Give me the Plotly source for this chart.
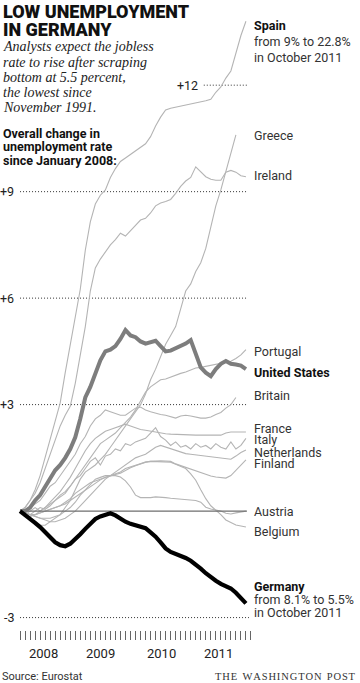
import plotly.graph_objects as go

# ---------------- data (change in unemployment rate since Jan 2008, points) ----------------
months = list(range(46))  # 0 = Jan 2008 ... 45 = Oct 2011

spain = [0, 0.1, 0.3, 0.6, 1.0, 1.5, 2.0, 2.5, 3.05, 3.9, 4.7, 5.5, 6.25, 7.35, 8.15, 8.65, 8.9, 9.05,
         9.4, 9.65, 9.85, 9.95, 10.05, 10.15, 10.25, 10.35, 10.55, 10.85, 11.1, 11.3, 11.35, 11.38,
         11.4, 11.42, 11.45, 11.5, 11.52, 11.56, 11.6, 11.8, 11.95, 12.2, 12.4, 12.9, 13.4, 13.8]
greece = [0, -0.1, -0.2, -0.3, -0.4, -0.4, -0.3, -0.2, -0.1, 0.1, 0.3, 0.6, 0.9, 1.1, 1.2, 1.3,
          1.45, 1.6, 1.8, 2.0, 2.2, 2.4, 2.6, 2.8, 3.0, 3.3, 3.7, 4.0, 4.35, 4.7, 4.95, 5.2, 5.7,
          6.2, 6.4, 6.75, 7.0, 7.4, 8.0, 8.6, 9.05, 9.55, 10.05, 10.6]
ireland = [0, 0.1, 0.3, 0.5, 0.8, 1.2, 1.6, 2.0, 2.4, 2.7, 2.95, 3.6, 4.4, 5.2, 6.2, 6.85, 7.1, 7.3,
           7.5, 7.65, 7.83, 7.75, 7.9, 8.05, 8.2, 8.25, 8.4, 8.6, 8.68, 8.72, 8.78, 8.95, 9.15, 9.3,
           9.4, 9.7, 9.55, 9.42, 9.35, 9.32, 9.32, 9.55, 9.6, 9.55, 9.45, 9.42]
portugal = [0, -0.1, 0, 0.1, 0.0, 0.1, 0.2, 0.3, 0.4, 0.5, 0.7, 0.9, 1.1, 1.3, 1.5, 1.7, 1.9, 2.0,
            2.1, 2.2, 2.35, 2.5, 2.65, 2.85, 3.1, 3.35, 3.5, 3.6, 3.7, 3.72, 3.78, 3.82, 3.88, 3.92,
            3.98, 4.03, 4.05, 4.08, 4.1, 4.13, 4.17, 4.2, 4.22, 4.3, 4.4, 4.55]
britain = [0, 0.0, 0.1, 0.2, 0.3, 0.5, 0.7, 0.8, 1.0, 1.2, 1.4, 1.6, 1.9, 2.1, 2.4, 2.6, 2.7, 2.85,
           2.8, 2.75, 2.7, 2.7, 2.8, 2.9, 2.93, 2.85, 2.8, 2.75, 2.72, 2.7, 2.65, 2.62, 2.68, 2.7,
           2.68, 2.65, 2.62, 2.62, 2.65, 2.72, 2.78, 2.9, 3.0, 3.2]
france = [0, -0.1, -0.15, -0.1, 0.0, 0.1, 0.25, 0.4, 0.55, 0.75, 0.95, 1.2, 1.45, 1.7, 1.9, 2.05,
          2.15, 2.25, 2.3, 2.35, 2.4, 2.45, 2.4, 2.35, 2.3, 2.28, 2.25, 2.22, 2.2, 2.18, 2.17, 2.16,
          2.15, 2.14, 2.14, 2.14, 2.14, 2.14, 2.14, 2.14, 2.14, 2.2, 2.23, 2.23, 2.23, 2.23]
italy = [0, -0.05, -0.1, 0.0, 0.1, 0.05, 0.15, 0.3, 0.45, 0.55, 0.7, 0.9, 1.0, 1.2, 1.4, 1.5, 1.3,
         1.55, 1.6, 1.75, 1.7, 1.9, 1.85, 1.95, 2.0, 2.05, 2.2, 2.35, 2.1, 2.0, 1.85, 1.95, 1.8,
         1.85, 1.75, 1.9, 1.8, 1.85, 1.75, 1.9, 1.8, 1.75, 1.95, 1.75, 1.85, 2.05]
netherlands = [0, -0.05, -0.1, -0.15, -0.2, -0.25, -0.3, -0.3, -0.25, -0.2, -0.1, 0.0, 0.15, 0.3,
               0.45, 0.6, 0.75, 0.9, 1.0, 1.1, 1.2, 1.3, 1.4, 1.5, 1.55, 1.6, 1.7, 1.8, 1.85, 1.8,
               1.75, 1.7, 1.65, 1.62, 1.6, 1.58, 1.56, 1.55, 1.53, 1.52, 1.5, 1.48, 1.46, 1.55,
               1.65, 1.72]
finland = [0, -0.05, -0.1, -0.1, -0.05, 0.0, 0.05, 0.1, 0.15, 0.2, 0.3, 0.4, 0.5, 0.6, 0.7, 0.8,
           0.88, 0.95, 1.0, 1.03, 1.07, 1.15, 1.22, 1.28, 1.33, 1.38, 1.4, 1.42, 1.42, 1.41, 1.4,
           1.33, 1.28, 1.24, 1.18, 1.12, 1.08, 1.03, 0.99, 0.96, 0.94, 0.93, 1.0, 1.15, 1.3, 1.44]
austria = [0, -0.05, -0.1, -0.15, -0.2, -0.2, -0.2, -0.15, -0.1, 0.0, 0.1, 0.25, 0.45, 0.6, 0.75,
           0.9, 0.95, 1.0, 1.0, 1.0, 0.96, 0.85, 0.68, 0.45, 0.38, 0.37, 0.38, 0.4, 0.4, 0.38,
           0.36, 0.35, 0.33, 0.31, 0.31, 0.3, 0.25, 0.11, 0.06, 0.03, 0.0, -0.06, -0.08, -0.05,
           -0.02, 0.0]
belgium = [0, -0.05, -0.1, -0.1, -0.05, 0.0, 0.05, 0.1, 0.15, 0.25, 0.35, 0.5, 0.6, 0.7, 0.8, 0.85,
           0.9, 0.95, 1.0, 1.05, 1.1, 1.2, 1.25, 1.3, 1.35, 1.38, 1.4, 1.4, 1.4, 1.4, 1.38, 1.32,
           1.25, 1.2, 1.05, 0.87, 0.6, 0.35, 0.15, 0.03, -0.1, -0.25, -0.32, -0.39, -0.42, -0.45]
united_states = [0, 0.0, 0.1, 0.3, 0.45, 0.7, 0.95, 1.15, 1.3, 1.5, 1.75, 2.08, 2.6, 3.2, 3.5, 3.85,
                 4.25, 4.5, 4.55, 4.65, 4.85, 5.1, 4.95, 4.9, 4.78, 4.72, 4.75, 4.8, 4.65, 4.5,
                 4.52, 4.58, 4.65, 4.72, 4.82, 4.45, 4.05, 3.9, 3.8, 4.0, 4.15, 4.23, 4.15, 4.13,
                 4.1, 4.0]
germany = [0, -0.1, -0.2, -0.33, -0.45, -0.6, -0.75, -0.88, -0.96, -0.99, -0.92, -0.8, -0.65, -0.5,
           -0.35, -0.22, -0.15, -0.1, -0.06, -0.12, -0.22, -0.3, -0.36, -0.4, -0.42, -0.48, -0.6,
           -0.72, -0.88, -1.05, -1.15, -1.2, -1.26, -1.32, -1.4, -1.5, -1.62, -1.75, -1.87, -1.96,
           -2.05, -2.12, -2.18, -2.3, -2.45, -2.6]

grid_values = [-3, 3, 6, 9, 12]
grid_labels = ["-3", "+3", "+6", "+9", "+12"]
year_labels = ["2008", "2009", "2010", "2011"]
year_starts = [0, 11, 23, 35]     # major tick positions (month index)
last_month = 46

# ---------------- layout geometry ----------------
W, H = 360, 683
L, R, T, B = 10, 99, 0, 53
PW, PH = W - L - R, H - T - B


def px_x(px):
    return (px - L) / PW


def px_y(py):
    return 1 - (py - T) / PH


FONT = "Roboto"
SERIF = "Liberation Serif"

fig = go.Figure()

thin = dict(color="#b4b4b4", width=1.1)
for name, ser in [("Spain", spain), ("Greece", greece), ("Ireland", ireland),
                  ("Portugal", portugal), ("Britain", britain), ("France", france),
                  ("Italy", italy), ("Netherlands", netherlands), ("Finland", finland),
                  ("Austria", austria), ("Belgium", belgium)]:
    fig.add_trace(go.Scatter(x=months[:len(ser)], y=ser, mode="lines", name=name,
                             line=thin, hoverinfo="skip", showlegend=False))

# zero line
fig.add_trace(go.Scatter(x=[months[0], months[-1] + 0.2], y=[0, 0], mode="lines",
                         line=dict(color="#6e6e6e", width=1.3), showlegend=False,
                         hoverinfo="skip"))

fig.add_trace(go.Scatter(x=months, y=united_states, mode="lines", name="United States",
                         line=dict(color="#7d7d7d", width=4), showlegend=False))
fig.add_trace(go.Scatter(x=months, y=germany, mode="lines", name="Germany",
                         line=dict(color="#000000", width=4.2), showlegend=False))

shapes = []
for v in grid_values:
    x0 = 36.6 if v == 12 else 0
    x1 = 45.6 if v == -3 else 45.2
    shapes.append(dict(type="line", xref="x", yref="y", x0=x0, x1=x1, y0=v, y1=v,
                       line=dict(color="#333333", width=1, dash="1px,2px"), layer="below"))

ann = []
for v, t in zip(grid_values, grid_labels):
    if v == 12:
        ann.append(dict(text=t, xref="x", yref="y", x=35.9, y=v, xanchor="right",
                        yanchor="middle", showarrow=False,
                        font=dict(family=FONT, size=12.5, color="#222")))
    else:
        ann.append(dict(text=t, xref="paper", yref="y", x=px_x(16), y=v, xanchor="right",
                        yanchor="middle", showarrow=False,
                        font=dict(family=FONT, size=12.5, color="#222")))

# year labels
ends = year_starts[1:] + [last_month]
for lab, a, b in zip(year_labels, year_starts, ends):
    ann.append(dict(text=lab, xref="x", yref="paper", x=(a + b) / 2 - 0.9, y=px_y(653),
                    xanchor="center", yanchor="middle", showarrow=False,
                    font=dict(family=FONT, size=13, color="#222")))


def label(text, py, bold=False, size=12.5, color="#333"):
    if bold:
        text = "<b>" + text + "</b>"
        color = "#111"
    ann.append(dict(text=text, xref="paper", yref="paper", x=px_x(252), y=px_y(py),
                    xanchor="left", yanchor="middle", showarrow=False,
                    font=dict(family=FONT, size=size, color=color)))


label("Spain", 26, bold=True)
label("from 9% to 22.8%", 42)
label("in October 2011", 57)
label("Greece", 135)
label("Ireland", 175)
label("Portugal", 351)
label("United States", 372, bold=True)
label("Britain", 395)
label("France", 428)
label("Italy", 439)
label("Netherlands", 452)
label("Finland", 463)
label("Austria", 511)
label("Belgium", 531)
label("Germany", 586, bold=True)
label("from 8.1% to 5.5%", 599)
label("in October 2011", 612)


def left_text(text, py, size, family, color="#111", weight=None, italic=False, x=1):
    if italic:
        text = "<i>" + text + "</i>"
    font = dict(family=family, size=size, color=color)
    if weight:
        font["weight"] = weight
    ann.append(dict(text=text, xref="paper", yref="paper", x=px_x(x), y=px_y(py),
                    xanchor="left", yanchor="middle", showarrow=False, font=font))


left_text("LOW UNEMPLOYMENT", 11.5, 18, FONT, weight=900)
left_text("IN GERMANY", 29.5, 18, FONT, weight=900)
for i, line in enumerate(["Analysts expect the jobless", "rate to rise after scraping",
                          "bottom at 5.5 percent,", "the lowest since", "November 1991."]):
    left_text(line, 47 + 15.2 * i, 14, SERIF, color="#222", italic=True)
for i, line in enumerate(["Overall change in", "unemployment rate", "since January 2008:"]):
    left_text(line, 133 + 13.5 * i, 12.5, FONT, weight=700)

left_text("Source: Eurostat", 676, 11, FONT, color="#333", x=0)
wp = "\u2002".join("\u200a".join(word) for word in ["THE", "WASHINGTON", "POST"])
ann.append(dict(text=wp, xref="paper", yref="paper", x=px_x(358), y=px_y(676), xanchor="right",
                yanchor="middle", showarrow=False,
                font=dict(family=SERIF, size=10.5, color="#333")))

fig.update_layout(
    width=W, height=H, margin=dict(l=L, r=R, t=T, b=B, autoexpand=False),
    paper_bgcolor="white", plot_bgcolor="white", showlegend=False,
    shapes=shapes, annotations=ann,
    xaxis=dict(range=[-2, 48], showgrid=False, zeroline=False, showline=False,
               tickmode="array", tickvals=year_starts, ticktext=[""] * len(year_starts),
               ticks="outside", ticklen=13, tickwidth=1, tickcolor="#555",
               minor=dict(tickmode="array", tickvals=list(range(0, last_month + 1)),
                          ticks="outside", ticklen=9, tickwidth=1, tickcolor="#666"),
               fixedrange=True),
    yaxis=dict(range=[-3.35, 14.4], showgrid=False, zeroline=False, showline=False,
               showticklabels=False, ticks="", fixedrange=True),
)

fig.write_html("out.html", config={"displayModeBar": False},
               post_script="document.body.style.margin='0';"
                           "document.body.style.overflow='hidden';")
